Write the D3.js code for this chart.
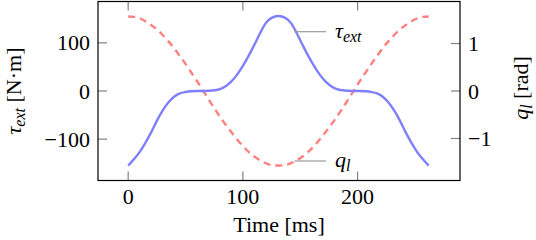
<!DOCTYPE html>
<html>
<head>
<meta charset="utf-8">
<script src="https://cdn.jsdelivr.net/npm/d3@7"></script>
<style>
  body { margin: 0; background: #fff; }
  text { font-family: "Liberation Serif", "Times New Roman", serif; fill: #000; }
</style>
</head>
<body>
<svg id="chart"></svg>
<script>
// time samples [ms], first half, second half mirrors about the peak
let timeMs = [0, 5, 10, 15, 20, 25, 30, 35, 40, 45, 50, 55, 60, 65, 70, 75, 80, 85, 90, 95, 100,
  105, 110, 115, 120, 125, 131,
  137, 142, 147, 152, 157, 162, 167, 172, 177, 182, 187, 192, 197, 202, 207, 212, 217, 222,
  227, 232, 237, 242, 247, 252, 257, 262];

// external torque [N.m]
let tauExt = [-155, -142, -127, -108, -86, -62, -41, -24, -12, -5, -2, -0.5, 0, 0, 0.5, 1.5, 4, 10, 20, 34, 52,
  73, 96, 120, 141, 152, 156,
  152, 141, 120, 96, 73, 52, 34, 20, 10, 4, 1.5, 0.5, 0, 0, -0.5, -2, -5, -12,
  -24, -41, -62, -86, -108, -127, -142, -155];

// link position [rad]
let qLink = [1.57, 1.56, 1.53, 1.47, 1.39, 1.30, 1.18, 1.05, 0.90, 0.74, 0.57, 0.39, 0.21, 0.02, -0.17, -0.36, -0.54, -0.71, -0.87, -1.02, -1.16,
  -1.28, -1.38, -1.46, -1.52, -1.56, -1.57,
  -1.56, -1.52, -1.46, -1.38, -1.28, -1.16, -1.02, -0.87, -0.71, -0.54, -0.36, -0.17, 0.02, 0.21, 0.39, 0.57, 0.74, 0.90,
  1.05, 1.18, 1.30, 1.39, 1.47, 1.53, 1.56, 1.57];

let xTicks = [0, 100, 200];
let tauTicks = [-100, 0, 100];
let qTicks = [-1, 0, 1];

let width = 536, height = 240;
let box = {left: 98, right: 460, top: 1.5, bottom: 180.5};
let tickLen = 9;
let fontSize = 22;
let subSize = 16;

let svg = d3.select("#chart").attr("width", width).attr("height", height);

let x = d3.scaleLinear().domain([-26.3, 289.3]).range([box.left, box.right]);
let yTau = d3.scaleLinear().domain([-186, 186]).range([box.bottom, box.top]);
let yQ = d3.scaleLinear().domain([-1.885, 1.885]).range([box.bottom, box.top]);

let rows = timeMs.map((t, i) => ({t: t, tau: tauExt[i], q: qLink[i]}));

// ticks (gray, pointing inward)
let tickG = svg.append("g").attr("stroke", "#808080").attr("stroke-width", 1.2);
xTicks.forEach(function(v) {
  tickG.append("line").attr("x1", x(v)).attr("x2", x(v)).attr("y1", box.bottom).attr("y2", box.bottom - tickLen);
  tickG.append("line").attr("x1", x(v)).attr("x2", x(v)).attr("y1", box.top).attr("y2", box.top + tickLen);
});
tauTicks.forEach(function(v) {
  tickG.append("line").attr("x1", box.left).attr("x2", box.left + tickLen).attr("y1", yTau(v)).attr("y2", yTau(v));
});
qTicks.forEach(function(v) {
  tickG.append("line").attr("x1", box.right).attr("x2", box.right - tickLen).attr("y1", yQ(v)).attr("y2", yQ(v));
});

// curves
let tauLine = d3.line().curve(d3.curveMonotoneX).x(d => x(d.t)).y(d => yTau(d.tau));
let qLine = d3.line().curve(d3.curveMonotoneX).x(d => x(d.t)).y(d => yQ(d.q));

svg.append("path").datum(rows).attr("d", qLine)
  .attr("fill", "none").attr("stroke", "#ff8080").attr("stroke-width", 2.4)
  .attr("stroke-dasharray", "7,5");
svg.append("path").datum(rows).attr("d", tauLine)
  .attr("fill", "none").attr("stroke", "#8080ff").attr("stroke-width", 2.4);

// frame
svg.append("rect").attr("x", box.left).attr("y", box.top)
  .attr("width", box.right - box.left).attr("height", box.bottom - box.top)
  .attr("fill", "none").attr("stroke", "#000").attr("stroke-width", 1.2);

// tick labels
let fmt = v => v < 0 ? "\u2212" + Math.abs(v) : String(v);
svg.append("g").selectAll("text").data(xTicks).enter().append("text")
  .attr("x", d => x(d)).attr("y", 204).attr("text-anchor", "middle")
  .attr("font-size", fontSize).text(fmt);
svg.append("g").selectAll("text").data(tauTicks).enter().append("text")
  .attr("x", box.left - 8).attr("y", d => yTau(d) + 7.5).attr("text-anchor", "end")
  .attr("font-size", fontSize).text(fmt);
svg.append("g").selectAll("text").data(qTicks).enter().append("text")
  .attr("x", box.right + 8).attr("y", d => yQ(d) + 7.5).attr("text-anchor", "start")
  .attr("font-size", fontSize).text(fmt);

// axis labels
svg.append("text").attr("x", (box.left + box.right) / 2).attr("y", 232)
  .attr("text-anchor", "middle").attr("font-size", fontSize).text("Time [ms]");

let leftLabel = svg.append("text").attr("font-size", fontSize).attr("text-anchor", "middle")
  .attr("transform", "translate(21," + ((box.top + box.bottom) / 2) + ") rotate(-90)");
leftLabel.append("tspan").attr("font-style", "italic").text("\u03c4");
leftLabel.append("tspan").attr("font-style", "italic").attr("font-size", subSize).attr("dy", 4).text("ext");
leftLabel.append("tspan").attr("dy", -4).text(" [N\u00b7m]");

let rightLabel = svg.append("text").attr("font-size", fontSize).attr("text-anchor", "middle")
  .attr("transform", "translate(528," + ((box.top + box.bottom) / 2 - 3) + ") rotate(-90)");
rightLabel.append("tspan").attr("font-style", "italic").text("q");
rightLabel.append("tspan").attr("font-style", "italic").attr("font-size", subSize).attr("dy", 4).text("l");
rightLabel.append("tspan").attr("dy", -4).text(" [rad]");

// curve annotations
let pins = [
  {t: 145, y: 31.7, base: "\u03c4", sub: "ext"},
  {t: 145, y: 161, base: "q", sub: "l"}
];
pins.forEach(function(p) {
  svg.append("line").attr("x1", x(p.t)).attr("x2", 326).attr("y1", p.y).attr("y2", p.y)
    .attr("stroke", "#999").attr("stroke-width", 1.2);
  let lab = svg.append("text").attr("x", 335).attr("y", p.y + 6).attr("font-size", fontSize);
  lab.append("tspan").attr("font-style", "italic").text(p.base);
  lab.append("tspan").attr("font-style", "italic").attr("font-size", subSize).attr("dy", 4).text(p.sub);
});
</script>
</body>
</html>
